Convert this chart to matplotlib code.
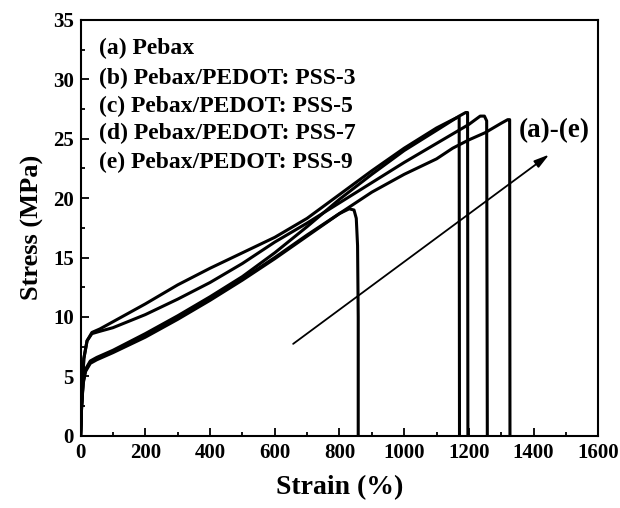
import numpy as np
import matplotlib
matplotlib.use('Agg')
import matplotlib.pyplot as plt
from matplotlib.ticker import MultipleLocator

# - Data ----------------------------------------------------------------------
labels = ["(a) Pebax", "(b) Pebax/PEDOT: PSS-3", "(c) Pebax/PEDOT: PSS-5",
          "(d) Pebax/PEDOT: PSS-7", "(e) Pebax/PEDOT: PSS-9"]

strain_a = [0, 3, 8, 15, 30, 50, 100, 200, 300, 400, 500, 600, 700, 800, 830, 845, 852, 856, 858, 858]
stress_a = [0, 2.5, 4.5, 5.5, 6.2, 6.5, 7.1, 8.4, 9.9, 11.5, 13.2, 15.0, 16.9, 18.7, 19.1, 19.0, 18.3, 16.0, 10.0, 0]

strain_b = [0, 5, 10, 20, 35, 60, 100, 200, 300, 400, 500, 600, 700, 800, 900, 1000, 1100, 1150, 1165, 1170, 1171]
stress_b = [0, 4.0, 6.5, 8.0, 8.7, 9.0, 9.6, 11.1, 12.7, 14.1, 15.4, 16.7, 18.3, 20.3, 22.3, 24.2, 25.9, 26.6, 26.8, 26.8, 0]

strain_c = [0, 3, 8, 15, 30, 50, 100, 200, 300, 400, 500, 600, 700, 800, 900, 1000, 1100, 1170, 1190, 1196, 1197]
stress_c = [0, 2.6, 4.6, 5.6, 6.3, 6.6, 7.2, 8.6, 10.1, 11.7, 13.4, 15.4, 17.6, 19.9, 22.0, 24.0, 25.7, 26.9, 27.2, 27.2, 0]

strain_d = [0, 5, 10, 20, 35, 60, 100, 200, 300, 400, 500, 600, 700, 800, 900, 1000, 1100, 1200, 1235, 1248, 1255, 1257]
stress_d = [0, 4.0, 6.5, 8.0, 8.6, 8.8, 9.1, 10.2, 11.5, 12.9, 14.5, 16.3, 17.9, 19.6, 21.3, 23.0, 24.6, 26.2, 26.9, 26.9, 26.5, 0]

strain_e = [0, 3, 8, 15, 30, 50, 100, 200, 300, 400, 500, 600, 700, 800, 900, 1000, 1100, 1150, 1200, 1250, 1300, 1320, 1326, 1327]
stress_e = [0, 2.4, 4.4, 5.4, 6.1, 6.4, 7.0, 8.3, 9.8, 11.4, 13.1, 14.9, 16.8, 18.7, 20.5, 22.0, 23.3, 24.2, 24.9, 25.5, 26.3, 26.6, 26.6, 0]

arrow_start = (650, 7.6)
arrow_end = (1455, 23.8)
# - EOF Data ------------------------------------------------------------------

plt.rcParams['font.family'] = ['Liberation Serif', 'DejaVu Serif']
plt.rcParams['font.weight'] = 'bold'

fig = plt.figure(figsize=(6.2, 5.08), dpi=100)
ax = fig.add_axes([0.13, 0.142, 0.835, 0.819])

for xs, ys in [(strain_a, stress_a), (strain_b, stress_b), (strain_c, stress_c),
               (strain_d, stress_d), (strain_e, stress_e)]:
    ax.plot(xs, ys, color='black', lw=2.2)

ax.annotate('', xy=arrow_end, xytext=arrow_start,
            arrowprops=dict(arrowstyle='-|>,head_length=0.9,head_width=0.25', color='black', lw=1.3))
ax.text(1355, 25.7, '(a)-(e)', fontsize=19.5, fontweight='bold', va='center', ha='left')

ys_txt = [32.6, 30.1, 27.7, 25.4, 23.0]
for lab, yy in zip(labels, ys_txt):
    ax.text(57, yy, lab, fontsize=17, fontweight='bold', va='center', ha='left')

ax.set_xlim(0, 1600)
ax.set_ylim(0, 35)
ax.xaxis.set_major_locator(MultipleLocator(200))
ax.xaxis.set_minor_locator(MultipleLocator(100))
ax.yaxis.set_major_locator(MultipleLocator(5))
ax.yaxis.set_minor_locator(MultipleLocator(2.5))
ax.tick_params(which='both', direction='in', top=False, right=False, width=1.3)
ax.tick_params(which='major', length=6, labelsize=15, pad=5)
ax.tick_params(which='minor', length=3)
for lbl in ax.get_xticklabels() + ax.get_yticklabels():
    lbl.set_fontweight('bold')
for sp in ax.spines.values():
    sp.set_linewidth(1.5)

ax.set_xlabel('Strain (%)', fontsize=20, fontweight='bold', labelpad=9)
ax.set_ylabel('Stress (MPa)', fontsize=19, fontweight='bold', labelpad=6)

fig.savefig('out.png', dpi=100)
